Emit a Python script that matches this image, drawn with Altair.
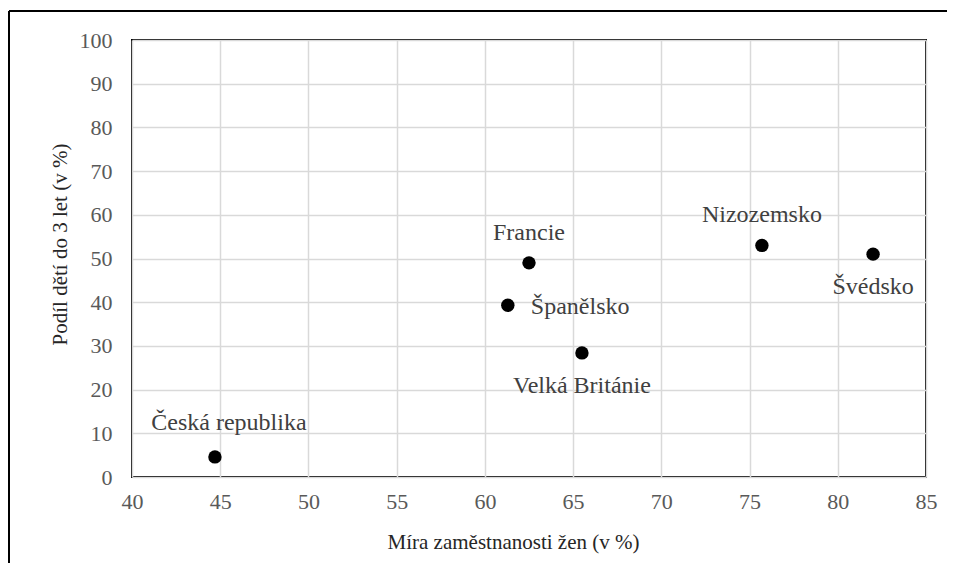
import altair as alt
import pandas as pd

countries = ["Česká republika", "Francie", "Španělsko", "Velká Británie", "Nizozemsko", "Švédsko"]
employment = [44.7, 62.5, 61.3, 65.5, 75.7, 82.0]
children = [4.6, 49.0, 39.3, 28.4, 53.0, 51.0]
placement = ["above-right", "above", "right", "below", "above", "below"]

x_ticks = [40, 45, 50, 55, 60, 65, 70, 75, 80, 85]
y_ticks = [0, 10, 20, 30, 40, 50, 60, 70, 80, 90, 100]

df = pd.DataFrame({"country": countries, "emp": employment, "kids": children, "place": placement})

FONT = "Liberation Serif"
LABEL_COLOR = "#595959"

x_enc = alt.X("emp:Q", scale=alt.Scale(domain=[40, 85], nice=False, zero=False),
              axis=alt.Axis(values=x_ticks, title="Míra zaměstnanosti žen (v %)",
                            titleX=381, titleY=71, titleBaseline="alphabetic",
                            titleAnchor="start", titleAlign="center"))
y_enc = alt.Y("kids:Q", scale=alt.Scale(domain=[0, 100], nice=False),
              axis=alt.Axis(values=y_ticks, title="Podíl dětí do 3 let (v %)",
                            titleX=-66, titleY=204, titleBaseline="alphabetic",
                            titleAngle=270, titleAlign="center"))

base = alt.Chart(df)

points = base.mark_circle(size=180, color="black", opacity=1).encode(x=x_enc, y=y_enc)


def label_layer(place, dx, dy, align):
    return base.transform_filter(alt.datum.place == place).mark_text(
        font=FONT, fontSize=24, color="#404040", dx=dx, dy=dy, align=align,
        baseline="alphabetic").encode(x="emp:Q", y="kids:Q", text="country:N")


labels = (label_layer("above", 0, -23, "center")
          + label_layer("above-right", 14, -27, "center")
          + label_layer("below", 0, 40, "center")
          + label_layer("right", 23, 9, "left"))

frame_left = alt.Chart(df).mark_rule(stroke="black", strokeWidth=2).encode(
    x=alt.value(-123), y=alt.value(-29), y2=alt.value(530))
frame_top = alt.Chart(df).mark_rule(stroke="black", strokeWidth=2).encode(
    x=alt.value(-123), x2=alt.value(830), y=alt.value(-29))

chart = alt.layer(frame_left, frame_top, points, labels).properties(
    width=794, height=437,
    autosize=alt.AutoSizeParams(type="none"),
    padding={"left": 124, "top": 32, "right": 21, "bottom": 86},
).configure(background="white").configure_view(stroke="black", strokeWidth=2).configure_axis(
    grid=True, gridColor="#d9d9d9", gridWidth=1.5, domain=False, ticks=False, tickSize=0,
    labelFlush=False, labelOverlap=False,
    labelFont=FONT, labelFontSize=22, labelColor=LABEL_COLOR,
    titleFont=FONT, titleFontSize=21, titleColor="#262626", titleFontWeight="normal",
).configure_axisX(labelPadding=14).configure_axisY(labelPadding=20)

chart.save("out.html", embed_options={"renderer": "svg", "actions": False})
